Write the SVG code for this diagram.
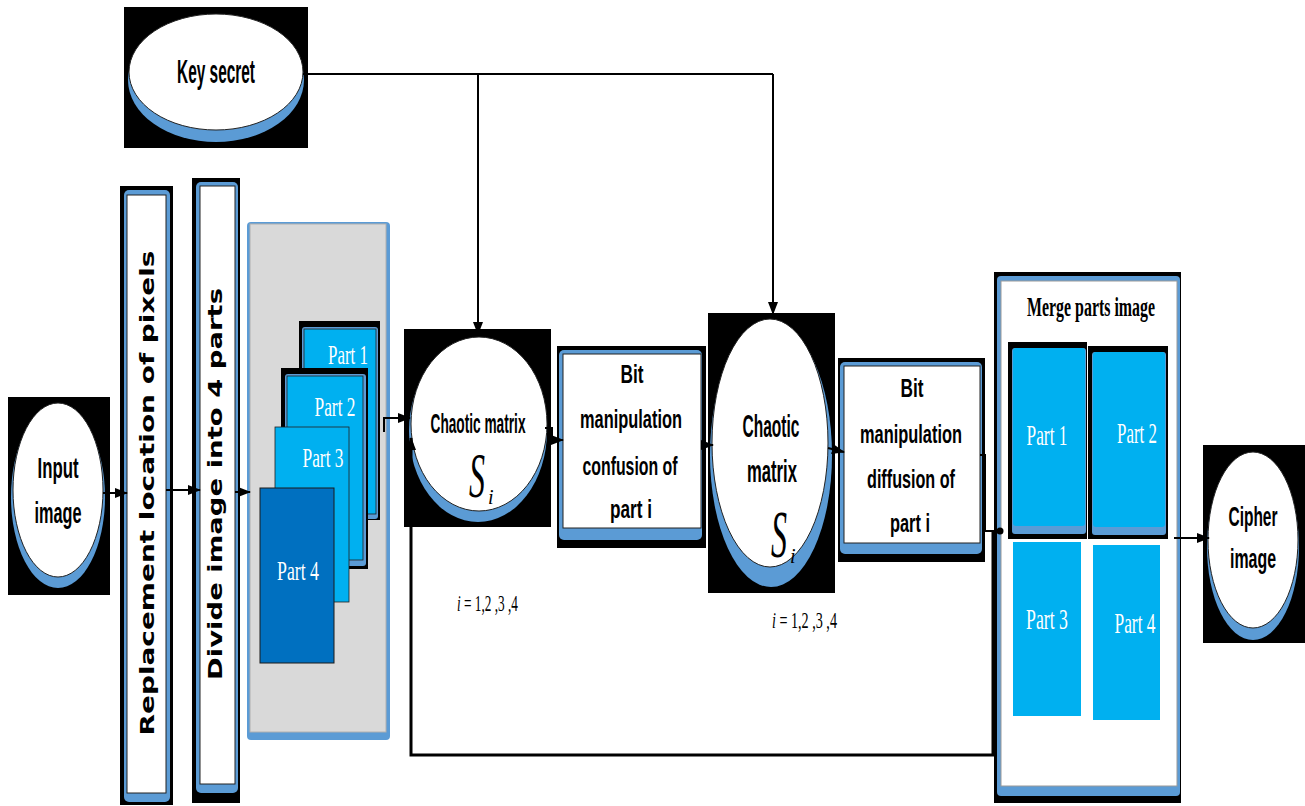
<svg xmlns="http://www.w3.org/2000/svg" width="1305" height="806" viewBox="0 0 1305 806">
<style>
.bk{fill:#000}
.sh{fill:#5b9bd5}
.wh{fill:#fff;stroke:#222;stroke-width:1}
.lb{fill:#00b0f0}
.lbs{fill:#00b0f0;stroke:#222;stroke-width:0.8}
.db{fill:#0070c0;stroke:#1a1a1a;stroke-width:1}
.t{font-family:"Liberation Sans Narrow","Liberation Sans",Arial,sans-serif;font-weight:bold;fill:#000;text-anchor:middle}
.v{font-family:"DejaVu Sans",Verdana,sans-serif;font-weight:bold;fill:#000;text-anchor:middle;font-size:20px}
.p{font-family:"Liberation Serif","Times New Roman",serif;fill:#fff;text-anchor:middle}
.m{font-family:"Liberation Serif","Times New Roman",serif;font-weight:bold;fill:#000;text-anchor:middle}
.s{font-family:"Liberation Serif","Times New Roman",serif;font-style:italic;fill:#000}
.n{font-family:"Liberation Serif","Times New Roman",serif;fill:#000;font-size:24px}
.c{fill:none;stroke:#000;stroke-width:2}
</style>
<defs>
<marker id="ah" markerWidth="13" markerHeight="10" refX="12" refY="5" orient="auto" markerUnits="userSpaceOnUse"><path d="M0,0 L13,5 L0,10 z" fill="#000"/></marker>
</defs>

<g id="key-secret">
<rect class="bk" x="124" y="7" width="184" height="141"/>
<ellipse class="sh" cx="216" cy="80" rx="88" ry="62"/>
<ellipse class="wh" cx="216" cy="72" rx="87" ry="58"/>
<text class="t" x="216" y="83" font-size="34" textLength="78" lengthAdjust="spacingAndGlyphs">Key secret</text>
</g>

<g id="input-image">
<rect class="bk" x="8" y="397" width="102" height="198"/>
<ellipse class="sh" cx="58" cy="497" rx="47" ry="91"/>
<ellipse class="wh" cx="58" cy="490" rx="45" ry="87"/>
<text class="t" x="58" y="478" font-size="29" textLength="41" lengthAdjust="spacingAndGlyphs">Input</text>
<text class="t" x="58" y="523" font-size="29" textLength="47" lengthAdjust="spacingAndGlyphs">image</text>
</g>

<g id="replacement">
<rect class="bk" x="120" y="186" width="53" height="619"/>
<rect class="sh" x="124" y="190" width="46" height="612" rx="5"/>
<rect class="wh" x="127" y="195" width="39" height="598"/>
<text class="v" transform="translate(154,493) rotate(-90)" textLength="485" lengthAdjust="spacingAndGlyphs">Replacement location of pixels</text>
</g>

<g id="divide">
<rect class="bk" x="192" y="178" width="48" height="625"/>
<rect class="sh" x="196" y="182" width="42" height="611" rx="5"/>
<rect class="wh" x="200" y="186" width="35" height="598"/>
<text class="v" transform="translate(222,484) rotate(-90)" textLength="392" lengthAdjust="spacingAndGlyphs">Divide image into 4 parts</text>
</g>

<g id="parts-panel">
<rect class="sh" x="247" y="222" width="143" height="518" rx="4"/>
<rect x="250" y="224" width="136" height="508" fill="#d9d9d9" stroke="#b0b0b0" stroke-width="1"/>
<rect class="bk" x="299" y="321" width="81" height="199"/>
<rect class="sh" x="302" y="327" width="76" height="192" rx="3"/>
<rect class="lbs" x="304" y="329" width="72" height="185"/>
<text class="p" x="348" y="364" font-size="28" textLength="40" lengthAdjust="spacingAndGlyphs">Part 1</text>
<rect class="bk" x="281" y="368" width="87" height="201"/>
<rect class="sh" x="285" y="374" width="81" height="192" rx="3"/>
<rect class="lbs" x="287" y="376" width="76" height="184"/>
<text class="p" x="335" y="416" font-size="28" textLength="41" lengthAdjust="spacingAndGlyphs">Part 2</text>
<rect class="lbs" x="275" y="427" width="74" height="175"/>
<text class="p" x="323" y="467" font-size="28" textLength="41" lengthAdjust="spacingAndGlyphs">Part 3</text>
<rect class="db" x="260" y="488" width="74" height="175"/>
<text class="p" x="298" y="580" font-size="28" textLength="42" lengthAdjust="spacingAndGlyphs">Part 4</text>
</g>

<g id="chaotic-matrix-1">
<rect class="bk" x="404" y="329" width="147" height="198"/>
<ellipse class="sh" cx="478" cy="431" rx="69" ry="91"/>
<ellipse class="wh" cx="479" cy="424" rx="68" ry="87"/>
<text class="t" x="478" y="433" font-size="28" textLength="95" lengthAdjust="spacingAndGlyphs">Chaotic matrix</text>
<text class="s" x="477" y="497" font-size="64" text-anchor="middle" textLength="16" lengthAdjust="spacingAndGlyphs">S</text>
<text class="s" x="488" y="504" font-size="20">i</text>
</g>

<g id="bit-confusion">
<rect class="bk" x="557" y="346" width="149" height="202"/>
<rect class="sh" x="559" y="350" width="143" height="190" rx="5"/>
<rect class="wh" x="563" y="354" width="138" height="174"/>
<text class="t" x="632" y="383" font-size="25" textLength="23" lengthAdjust="spacingAndGlyphs">Bit</text>
<text class="t" x="631" y="428" font-size="25" textLength="102" lengthAdjust="spacingAndGlyphs">manipulation</text>
<text class="t" x="630" y="475" font-size="25" textLength="95" lengthAdjust="spacingAndGlyphs">confusion of</text>
<text class="t" x="631" y="518" font-size="25" textLength="42" lengthAdjust="spacingAndGlyphs">part i</text>
</g>

<g id="chaotic-matrix-2">
<rect class="bk" x="708" y="313" width="127" height="280"/>
<ellipse class="sh" cx="771" cy="455" rx="61" ry="132"/>
<ellipse class="wh" cx="770" cy="443" rx="58" ry="124"/>
<text class="t" x="771" y="437" font-size="32" textLength="57" lengthAdjust="spacingAndGlyphs">Chaotic</text>
<text class="t" x="772" y="482" font-size="32" textLength="50" lengthAdjust="spacingAndGlyphs">matrix</text>
<text class="s" x="779" y="557" font-size="68" text-anchor="middle" textLength="16" lengthAdjust="spacingAndGlyphs">S</text>
<text class="s" x="790" y="563" font-size="20">i</text>
</g>

<g id="bit-diffusion">
<rect class="bk" x="838" y="358" width="147" height="204"/>
<rect class="sh" x="840" y="362" width="142" height="192" rx="5"/>
<rect class="wh" x="844" y="366" width="136" height="177"/>
<text class="t" x="912" y="397" font-size="25" textLength="23" lengthAdjust="spacingAndGlyphs">Bit</text>
<text class="t" x="911" y="443" font-size="25" textLength="102" lengthAdjust="spacingAndGlyphs">manipulation</text>
<text class="t" x="911" y="488" font-size="25" textLength="88" lengthAdjust="spacingAndGlyphs">diffusion of</text>
<text class="t" x="910" y="532" font-size="25" textLength="40" lengthAdjust="spacingAndGlyphs">part i</text>
</g>

<g id="merge-parts">
<rect class="bk" x="994" y="272" width="187" height="531"/>
<rect class="sh" x="997" y="276" width="183" height="520" rx="4"/>
<rect x="1001" y="281" width="176" height="505" fill="#fff" stroke="#999" stroke-width="1"/>
<text class="m" x="1091" y="316" font-size="27" textLength="128" lengthAdjust="spacingAndGlyphs">Merge parts image</text>
<rect class="bk" x="1008" y="342" width="79" height="197"/>
<rect class="sh" x="1012" y="348" width="74" height="186" rx="3"/>
<rect class="lb" x="1013" y="348" width="72" height="178" rx="3"/>
<text class="p" x="1047" y="445" font-size="30" textLength="41" lengthAdjust="spacingAndGlyphs">Part 1</text>
<rect class="bk" x="1088" y="346" width="80" height="193"/>
<rect class="sh" x="1092" y="352" width="74" height="183" rx="3"/>
<rect class="lb" x="1093" y="352" width="72" height="175" rx="3"/>
<text class="p" x="1137" y="443" font-size="30" textLength="40" lengthAdjust="spacingAndGlyphs">Part 2</text>
<rect class="lb" x="1013" y="542" width="68" height="174"/>
<text class="p" x="1047" y="629" font-size="30" textLength="42" lengthAdjust="spacingAndGlyphs">Part 3</text>
<rect class="lb" x="1093" y="545" width="67" height="175"/>
<text class="p" x="1135" y="633" font-size="30" textLength="41" lengthAdjust="spacingAndGlyphs">Part 4</text>
</g>

<g id="cipher-image">
<rect class="bk" x="1203" y="445" width="102" height="198"/>
<ellipse class="sh" cx="1253" cy="547" rx="46" ry="93"/>
<ellipse class="wh" cx="1253" cy="540" rx="45" ry="88"/>
<text class="t" x="1253" y="526" font-size="28" textLength="49" lengthAdjust="spacingAndGlyphs">Cipher</text>
<text class="t" x="1253" y="568" font-size="28" textLength="46" lengthAdjust="spacingAndGlyphs">image</text>
</g>

<g id="labels">
<text class="n" x="457" y="611" textLength="61" lengthAdjust="spacingAndGlyphs"><tspan font-style="italic">i</tspan> = 1,2 ,3 ,4</text>
<text class="n" x="772" y="628" textLength="65" lengthAdjust="spacingAndGlyphs"><tspan font-style="italic">i</tspan> = 1,2 ,3 ,4</text>
</g>

<g id="connectors">
<path class="c" d="M303 74 H773"/>
<path class="c" d="M478 74 V334" marker-end="url(#ah)"/>
<path class="c" d="M773 74 V314" marker-end="url(#ah)"/>
<path class="c" d="M103 493 H127" marker-end="url(#ah)"/>
<path class="c" d="M166 490 H200" marker-end="url(#ah)"/>
<path class="c" d="M235 492 H250" marker-end="url(#ah)"/>
<path class="c" d="M384 432 V418 H410" marker-end="url(#ah)"/>
<path class="c" d="M545 428 H552 V440 H563" marker-end="url(#ah)"/>
<path class="c" d="M701 445 H713" marker-end="url(#ah)"/>
<path class="c" d="M828 448 L844 452" marker-end="url(#ah)"/>
<path class="c" d="M980 455 H985 V531 H1000"/>
<circle cx="1000" cy="531" r="3.5" fill="#000"/>
<path fill="none" stroke="#000" stroke-width="3" d="M993 531 V755 H411 V438" marker-end="url(#ah)"/>
<path class="c" d="M1174 538 H1209" marker-end="url(#ah)"/>
</g>
</svg>
